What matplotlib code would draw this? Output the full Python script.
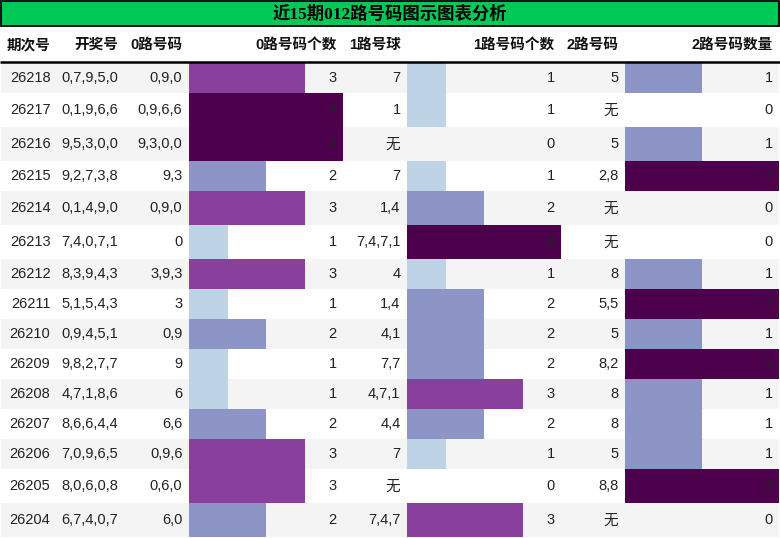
import matplotlib
matplotlib.use("Agg")
import matplotlib.pyplot as plt
import matplotlib as mpl
from matplotlib.patches import Rectangle

title = "近15期012路号码图示图表分析"
headers = ["期次号", "开奖号", "0路号码", "0路号码个数", "1路号球", "1路号码个数", "2路号码", "2路号码数量"]
periods = ["26218", "26217", "26216", "26215", "26214", "26213", "26212", "26211",
           "26210", "26209", "26208", "26207", "26206", "26205", "26204"]
draws = ["0,7,9,5,0", "0,1,9,6,6", "9,5,3,0,0", "9,2,7,3,8", "0,1,4,9,0", "7,4,0,7,1",
         "8,3,9,4,3", "5,1,5,4,3", "0,9,4,5,1", "9,8,2,7,7", "4,7,1,8,6", "8,6,6,4,4",
         "7,0,9,6,5", "8,0,6,0,8", "6,7,4,0,7"]
road0 = ["0,9,0", "0,9,6,6", "9,3,0,0", "9,3", "0,9,0", "0", "3,9,3", "3", "0,9", "9",
         "6", "6,6", "0,9,6", "0,6,0", "6,0"]
road0_cnt = [3, 4, 4, 2, 3, 1, 3, 1, 2, 1, 1, 2, 3, 3, 2]
road1 = ["7", "1", "无", "7", "1,4", "7,4,7,1", "4", "1,4", "4,1", "7,7", "4,7,1", "4,4",
         "7", "无", "7,4,7"]
road1_cnt = [1, 1, 0, 1, 2, 4, 1, 2, 2, 2, 3, 2, 1, 0, 3]
road2 = ["5", "无", "5", "2,8", "无", "无", "8", "5,5", "5", "8,2", "8", "8", "5", "8,8", "无"]
road2_cnt = [1, 0, 1, 2, 0, 0, 1, 2, 1, 2, 1, 1, 1, 2, 0]

W, H = 780, 538
fig = plt.figure(figsize=(W / 100, H / 100), dpi=100)
ax = fig.add_axes([0, 0, 1, 1])
ax.set_xlim(0, W)
ax.set_ylim(H, 0)
ax.axis("off")

body_font = ["Liberation Sans", "Noto Sans CJK SC", "DejaVu Sans"]
txt_color = "#222222"

# column edges
col_edges = [1, 57, 125, 189, 343, 407, 561, 625, 779]
pad = 6.5

# title bar
ax.add_patch(Rectangle((0.5, 0.5), 778.5, 25.5, facecolor="#00c957", edgecolor="black", lw=1.3))
ax.text(390, 14, title, ha="center", va="center", fontsize=12.5, fontweight="bold",
        family=["Liberation Serif", "Noto Sans CJK SC", "DejaVu Sans"], color="black")

# header
head_top, head_bot = 27, 62
for i, h in enumerate(headers):
    ax.text(col_edges[i + 1] - pad, (head_top + head_bot) / 2 + 0.5, h, ha="right", va="center",
            fontsize=10.5, fontweight="bold", family=body_font, color="#111111")
ax.plot([0, 780], [62, 62], color="black", lw=1.8, solid_capstyle="butt")

# rows
columns = [periods, draws, road0, road0_cnt, road1, road1_cnt, road2, road2_cnt]
bar_cols = {3: road0_cnt, 5: road1_cnt, 7: road2_cnt}
cmap = mpl.colormaps["BuPu"]

y = 63
for r in range(len(periods)):
    texts = [str(c[r]) for c in columns]
    rh = 34 if any("无" in t for t in texts) else 30
    if r % 2 == 0:
        ax.add_patch(Rectangle((1, y), 778, rh, facecolor="#f4f4f4", edgecolor="none", zorder=0))
    yc = y + rh / 2
    for ci, vals in bar_cols.items():
        vmax = max(vals)
        v = vals[r]
        if v > 0:
            x0 = col_edges[ci]
            cw = col_edges[ci + 1] - col_edges[ci]
            ax.barh(yc, v / vmax * cw, left=x0, height=rh, color=cmap(v / vmax),
                    edgecolor="none", zorder=1)
    for ci, t in enumerate(texts):
        ax.text(col_edges[ci + 1] - pad, yc + 0.5, t, ha="right", va="center",
                fontsize=10.5, family=body_font, color=txt_color, zorder=3)
    y += rh

fig.savefig("out.png", dpi=100)
